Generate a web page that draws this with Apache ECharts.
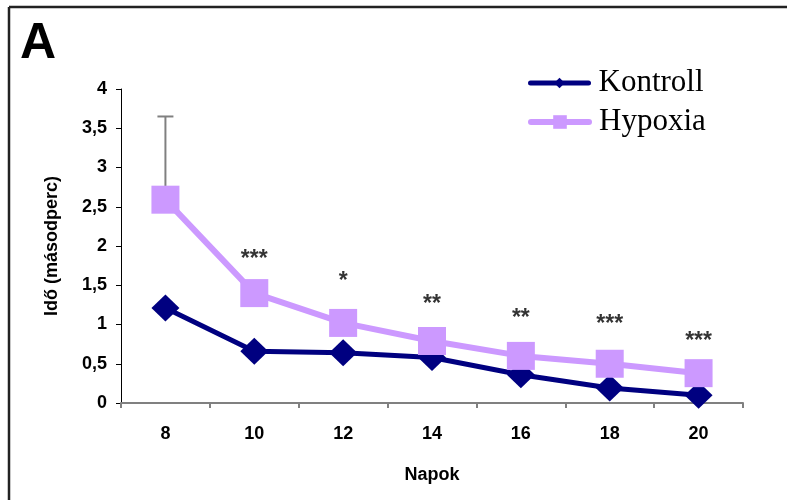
<!DOCTYPE html>
<html>
<head>
<meta charset="utf-8">
<script src="https://cdn.jsdelivr.net/npm/echarts@6/dist/echarts.min.js"></script>
<style>html,body{margin:0;padding:0;background:#fff}#c{width:787px;height:500px}</style>
</head>
<body>
<div id="c"></div>
<script>
var days = ['8', '10', '12', '14', '16', '18', '20'];
var kontroll = [1.21, 0.66, 0.64, 0.58, 0.36, 0.19, 0.10];
var hypoxia = [2.59, 1.40, 1.02, 0.79, 0.60, 0.50, 0.38];
var hypoxiaErr = [1.06, null, null, null, null, null, null];
var sigLabels = ['', '***', '*', '**', '**', '***', '***'];
var sigY = [null, 1.83, 1.54, 1.25, 1.08, 1.00, 0.78];
var yTicks = [0, 0.5, 1, 1.5, 2, 2.5, 3, 3.5, 4];

var chart = echarts.init(document.getElementById('c'), null, {renderer: 'canvas'});
var F = 'Liberation Sans, Arial, sans-serif';
var SERIF = 'Liberation Serif, Times New Roman, serif';

var errData = [];
hypoxia.forEach(function (v, i) {
  if (hypoxiaErr[i] != null) errData.push([i, v, v + hypoxiaErr[i]]);
});
var starData = [];
sigLabels.forEach(function (s, i) {
  if (s) starData.push({value: [i, sigY[i]], name: s});
});

chart.setOption({
  animation: false,
  backgroundColor: '#fff',
  graphic: [
    {type: 'line', shape: {x1: 9, y1: 7, x2: 787, y2: 7}, style: {stroke: '#222', lineWidth: 2.5}},
    {type: 'line', shape: {x1: 9, y1: 7, x2: 9, y2: 500}, style: {stroke: '#222', lineWidth: 2.5}},
    {type: 'text', x: 20, y: 44, style: {text: 'A', font: 'bold 50px ' + F, fill: '#000', textVerticalAlign: 'middle'}}
  ],
  legend: [
    {data: ['Kontroll'], left: 528, top: 62, padding: 0, itemWidth: 58, itemHeight: 13, itemGap: 16,
     lineStyle: {width: 5, cap: 'round'},
     textStyle: {fontFamily: SERIF, fontSize: 31, lineHeight: 30, color: '#000', padding: [0, 0, 12, 5]}},
    {data: ['Hypoxia'], left: 528, top: 90, padding: 0, itemWidth: 58, itemHeight: 17, itemGap: 16,
     lineStyle: {width: 6, cap: 'round'},
     textStyle: {fontFamily: SERIF, fontSize: 31, lineHeight: 30, color: '#000', padding: [0, 0, 34, 5]}}
  ],
  grid: {left: 121, right: 44, top: 89, bottom: 97},
  xAxis: {
    type: 'category', data: days, boundaryGap: true,
    name: 'Napok', nameLocation: 'middle', nameGap: 63,
    nameTextStyle: {fontFamily: F, fontWeight: 'bold', fontSize: 18, color: '#000'},
    axisLine: {lineStyle: {color: '#808080', width: 2}},
    axisTick: {show: true, length: 5, lineStyle: {color: '#808080', width: 2}},
    axisLabel: {fontFamily: F, fontWeight: 'bold', fontSize: 18, color: '#000', margin: 22},
    splitLine: {show: false}
  },
  yAxis: {
    type: 'value', min: 0, max: 4, interval: 0.5,
    name: 'Idő (másodperc)', nameLocation: 'middle', nameGap: 60,
    nameTextStyle: {fontFamily: F, fontWeight: 'bold', fontSize: 18, color: '#000'},
    axisLine: {show: true, lineStyle: {color: '#000', width: 1}},
    axisTick: {show: true, length: 5, lineStyle: {color: '#000', width: 1}},
    axisLabel: {fontFamily: F, fontWeight: 'bold', fontSize: 18, color: '#000', margin: 14,
      formatter: function (v) { return String(v).replace('.', ','); }},
    splitLine: {show: false}
  },
  series: [
    {
      type: 'custom', name: 'err', z: 1, silent: true,
      renderItem: function (params, api) {
        var lo = api.coord([api.value(0), api.value(1)]);
        var hi = api.coord([api.value(0), api.value(2)]);
        return {type: 'group', children: [
          {type: 'line', shape: {x1: lo[0], y1: lo[1], x2: hi[0], y2: hi[1]}, style: {stroke: '#808080', lineWidth: 2}},
          {type: 'line', shape: {x1: hi[0] - 8, y1: hi[1], x2: hi[0] + 8, y2: hi[1]}, style: {stroke: '#808080', lineWidth: 2}}
        ]};
      },
      data: errData
    },
    {
      type: 'line', name: 'Kontroll', data: kontroll, z: 2,
      symbol: 'diamond', symbolSize: [28, 27],
      itemStyle: {color: '#000080'},
      lineStyle: {color: '#000080', width: 5}
    },
    {
      type: 'line', name: 'Hypoxia', data: hypoxia, z: 3,
      symbol: 'rect', symbolSize: 28,
      itemStyle: {color: '#CC99FF'},
      lineStyle: {color: '#CC99FF', width: 6}
    },
    {
      type: 'scatter', name: 'sig', z: 4, symbolSize: 0, silent: true,
      label: {show: true, position: 'inside', formatter: function (p) { return p.name; },
        fontFamily: F, fontWeight: 'bold', fontSize: 23, color: '#000'},
      data: starData
    }
  ]
});
</script>
</body>
</html>
